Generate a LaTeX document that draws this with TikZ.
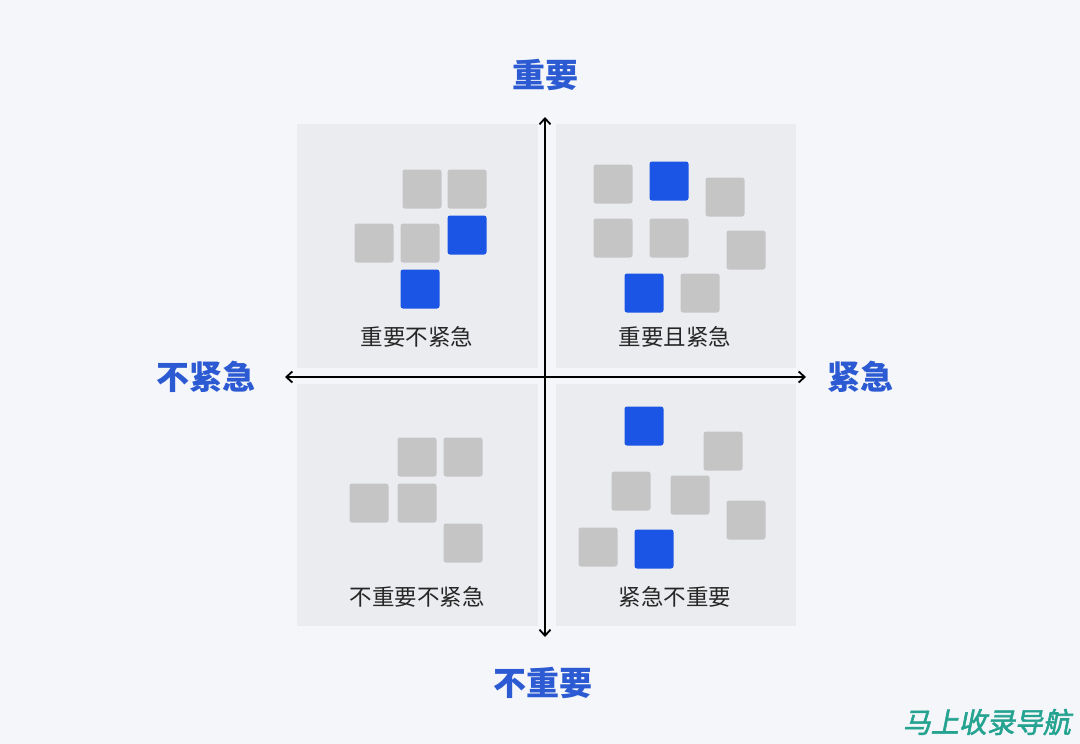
\documentclass[tikz,border=0pt]{standalone}
\usepackage{fontspec}
\newfontfamily\cjk{Noto Sans CJK SC}
\newfontfamily\wmfont[FakeSlant=0.2,FakeBold=2]{Noto Sans CJK SC}
\usepackage{xcolor}
\usetikzlibrary{arrows.meta}
\definecolor{bgcol}{HTML}{F4F6FA}
\definecolor{panelcol}{HTML}{EBECEF}
\definecolor{sqgray}{HTML}{C5C5C6}
\definecolor{sqblue}{HTML}{1A55E6}
\definecolor{axisblue}{HTML}{2C5AD2}
\definecolor{wmteal}{HTML}{25A391}
\tikzset{sq/.style={minimum size=39pt, inner sep=0pt, rounded corners=2.5pt},
 graysq/.style={sq, fill=sqgray},
 bluesq/.style={sq, fill=sqblue},
 panel/.style={fill=panelcol},
 quadlabel/.style={font=\cjk\fontsize{22.5}{26}\selectfont, text=black!85},
 axislabel/.style={font=\cjk\bfseries\fontsize{33}{36}\selectfont, text=axisblue},
 }

\begin{document}
\begin{tikzpicture}[x=1pt, y=-1pt, >={Straight Barb[length=6pt,width=11pt]}]
        \useasboundingbox[fill=bgcol] (0,0) rectangle (1080,744);

        % quadrant panels
        \fill[panel] (297,124) rectangle (538,368);
        \fill[panel] (556,124) rectangle (796,368);
        \fill[panel] (297,384) rectangle (538,626);
        \fill[panel] (556,384) rectangle (796,626);

        % squares
        \foreach \x/\y[count=\i] in {422/189, 467/189, 374/243, 420/243,
                                    613/184, 725/197, 613/238, 669/238, 746/250, 700/293,
                                    417/457, 463/457, 369/503, 417/503, 463/543,
                                    723/451, 631/491, 690/495, 746/520, 598/547} {
            \node[graysq] (g\i) at (\x,\y) {};
        }
        \foreach \x/\y[count=\i] in {467/235, 420/289, 669/181, 644/293, 644/426, 654/549} {
            \node[bluesq] (b\i) at (\x,\y) {};
        }

        \node[quadlabel] (ql1) at (417,337) {重要不紧急};
        \node[quadlabel] (ql2) at (675,337) {重要且紧急};
        \node[quadlabel] (ql3) at (417,597) {不重要不紧急};
        \node[quadlabel] (ql4) at (675,597) {紧急不重要};

        % axes
        \coordinate (top) at (545,117);
        \coordinate (bottom) at (545,637);
        \coordinate (left) at (285,377);
        \coordinate (right) at (806,377);
        \draw[line width=1.8pt, <->] (bottom) -- (top);
        \draw[line width=1.8pt, <->] (left) -- (right);

        \node[axislabel] (imp) at (545,75) {重要};
        \node[axislabel] (notimp) at (543,683) {不重要};
        \node[axislabel] (noturg) at (206,377) {不紧急};
        \node[axislabel] (urg) at (860,377) {紧急};

        \node[font=\wmfont\fontsize{28}{32}\selectfont, text=wmteal, anchor=east, inner sep=1pt] (wm) at (1072,722) {马上收录导航};
    \end{tikzpicture}
\end{document}
